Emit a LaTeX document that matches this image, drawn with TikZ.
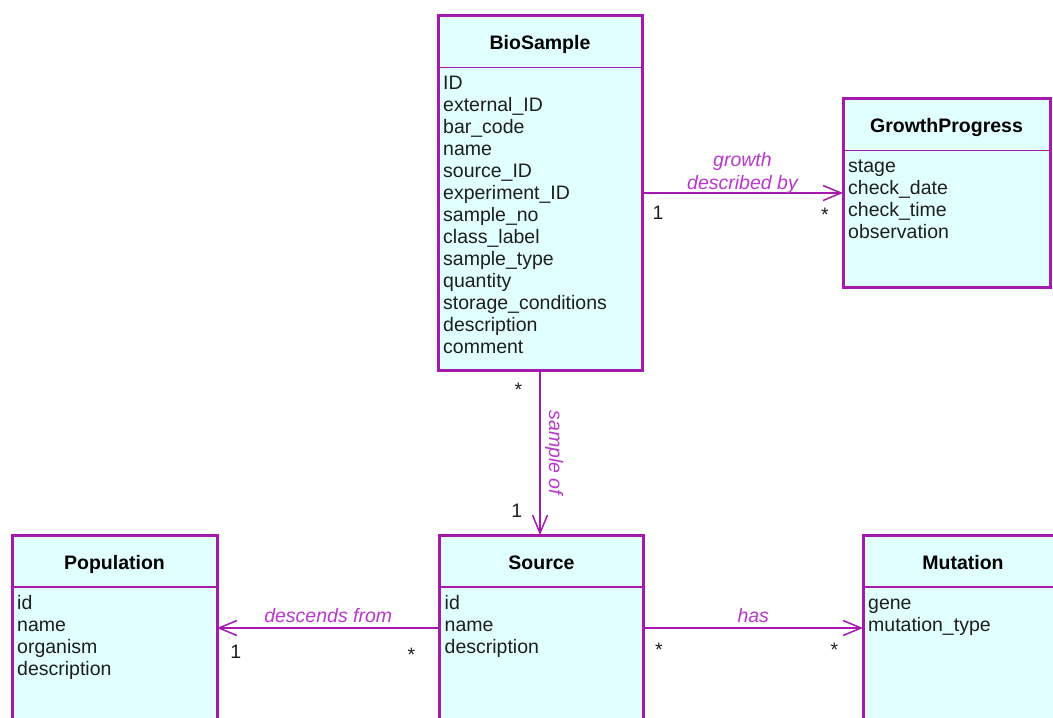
\documentclass[tikz,border=0pt]{standalone}
\usepackage{fontspec}
\setmainfont{Liberation Sans}
\usetikzlibrary{arrows.meta}

\definecolor{umlborder}{RGB}{165,25,175}
\definecolor{umllabel}{RGB}{185,55,205}
\definecolor{umlfill}{RGB}{225,255,255}
\definecolor{umltext}{RGB}{30,30,30}

\begin{document}
\begin{tikzpicture}[x=1pt, y=-1pt,
    classbox/.style={draw=umlborder, fill=umlfill, line width=3pt, outer sep=0pt, inner sep=0pt},
    classname/.style={anchor=base, font=\fontsize{19.5}{22}\selectfont\bfseries, text=black},
    attrlist/.style={anchor=north west, inner sep=0pt, align=left, font=\fontsize{19.5}{22}\selectfont, text=umltext},
    headline/.style={draw=umlborder, line width=1.5pt},
    assoc/.style={draw=umlborder, line width=1.5pt, -{Straight Barb[length=18pt, width=15pt, line width=1.5pt]}},
    rolename/.style={font=\fontsize{19.5}{23}\selectfont\itshape, text=umllabel, align=center},
    mult/.style={font=\fontsize{19.5}{22}\selectfont, text=umltext, inner sep=0pt}]

    % page frame
    \useasboundingbox (0,0) rectangle (1053,718);
    \clip (0,0) rectangle (1053,718);

    % classes
    \node (bs) at (540,193) [classbox, minimum width=204pt, minimum height=355pt] {};
    \node at ([yshift=-34pt]bs.north) [classname] {BioSample};
    \draw[headline] ([yshift=-52pt]bs.north west) -- ([yshift=-52pt]bs.north east);
    \node at ([xshift=5pt, yshift=-58.6pt]bs.north west) [attrlist] {\strut ID\\external\_ID\\bar\_code\\name\\source\_ID\\experiment\_ID\\sample\_no\\class\_label\\sample\_type\\quantity\\storage\_conditions\\description\\comment};

    \node (gp) at (946.5,193) [classbox, minimum width=207pt, minimum height=189pt] {};
    \node at ([yshift=-34pt]gp.north) [classname] {GrowthProgress};
    \draw[headline] ([yshift=-52pt]gp.north west) -- ([yshift=-52pt]gp.north east);
    \node at ([xshift=5pt, yshift=-58.6pt]gp.north west) [attrlist] {\strut stage\\check\_date\\check\_time\\observation};

    \node (pop) at (114.5,637.5) [classbox, minimum width=205pt, minimum height=205pt] {};
    \node at ([yshift=-34pt]pop.north) [classname] {Population};
    \draw[headline] ([yshift=-52pt]pop.north west) -- ([yshift=-52pt]pop.north east);
    \node at ([xshift=5pt, yshift=-58.6pt]pop.north west) [attrlist] {\strut id\\name\\organism\\description};

    \node (src) at (541.5,637.5) [classbox, minimum width=204pt, minimum height=205pt] {};
    \node at ([yshift=-34pt]src.north) [classname] {Source};
    \draw[headline] ([yshift=-52pt]src.north west) -- ([yshift=-52pt]src.north east);
    \node at ([xshift=5pt, yshift=-58.6pt]src.north west) [attrlist] {\strut id\\name\\description};

    \node (mut) at (963,637.5) [classbox, minimum width=200pt, minimum height=205pt] {};
    \node at ([yshift=-34pt]mut.north) [classname] {Mutation};
    \draw[headline] ([yshift=-52pt]mut.north west) -- ([yshift=-52pt]mut.north east);
    \node at ([xshift=5pt, yshift=-58.6pt]mut.north west) [attrlist] {\strut gene\\mutation\_type};

    % associations
    \coordinate (row) at (0,628);

    \draw[assoc] (bs) -- (gp)
        node[rolename, midway, above=-5pt] {growth\\described by}
        node[mult, pos=0.08, below=12pt] {1}
        node[mult, pos=0.91, below=14pt] {*};
    \draw[assoc] (bs) -- (bs |- src.north)
        node[rolename, midway, sloped, above=1pt] {sample of}
        node[mult, pos=0.12, left=17pt] {*}
        node[mult, pos=0.85, left=17pt] {1};
    \draw[assoc] (src.west |- row) -- (pop.east |- row)
        node[rolename, midway, above=1pt] {descends from}
        node[mult, pos=0.915, below=16pt] {1}
        node[mult, pos=0.126, below=19pt] {*};
    \draw[assoc] (src.east |- row) -- (mut.west |- row)
        node[rolename, midway, above=1pt] {has}
        node[mult, pos=0.07, below=14pt] {*}
        node[mult, pos=0.87, below=14pt] {*};

\end{tikzpicture}
\end{document}
